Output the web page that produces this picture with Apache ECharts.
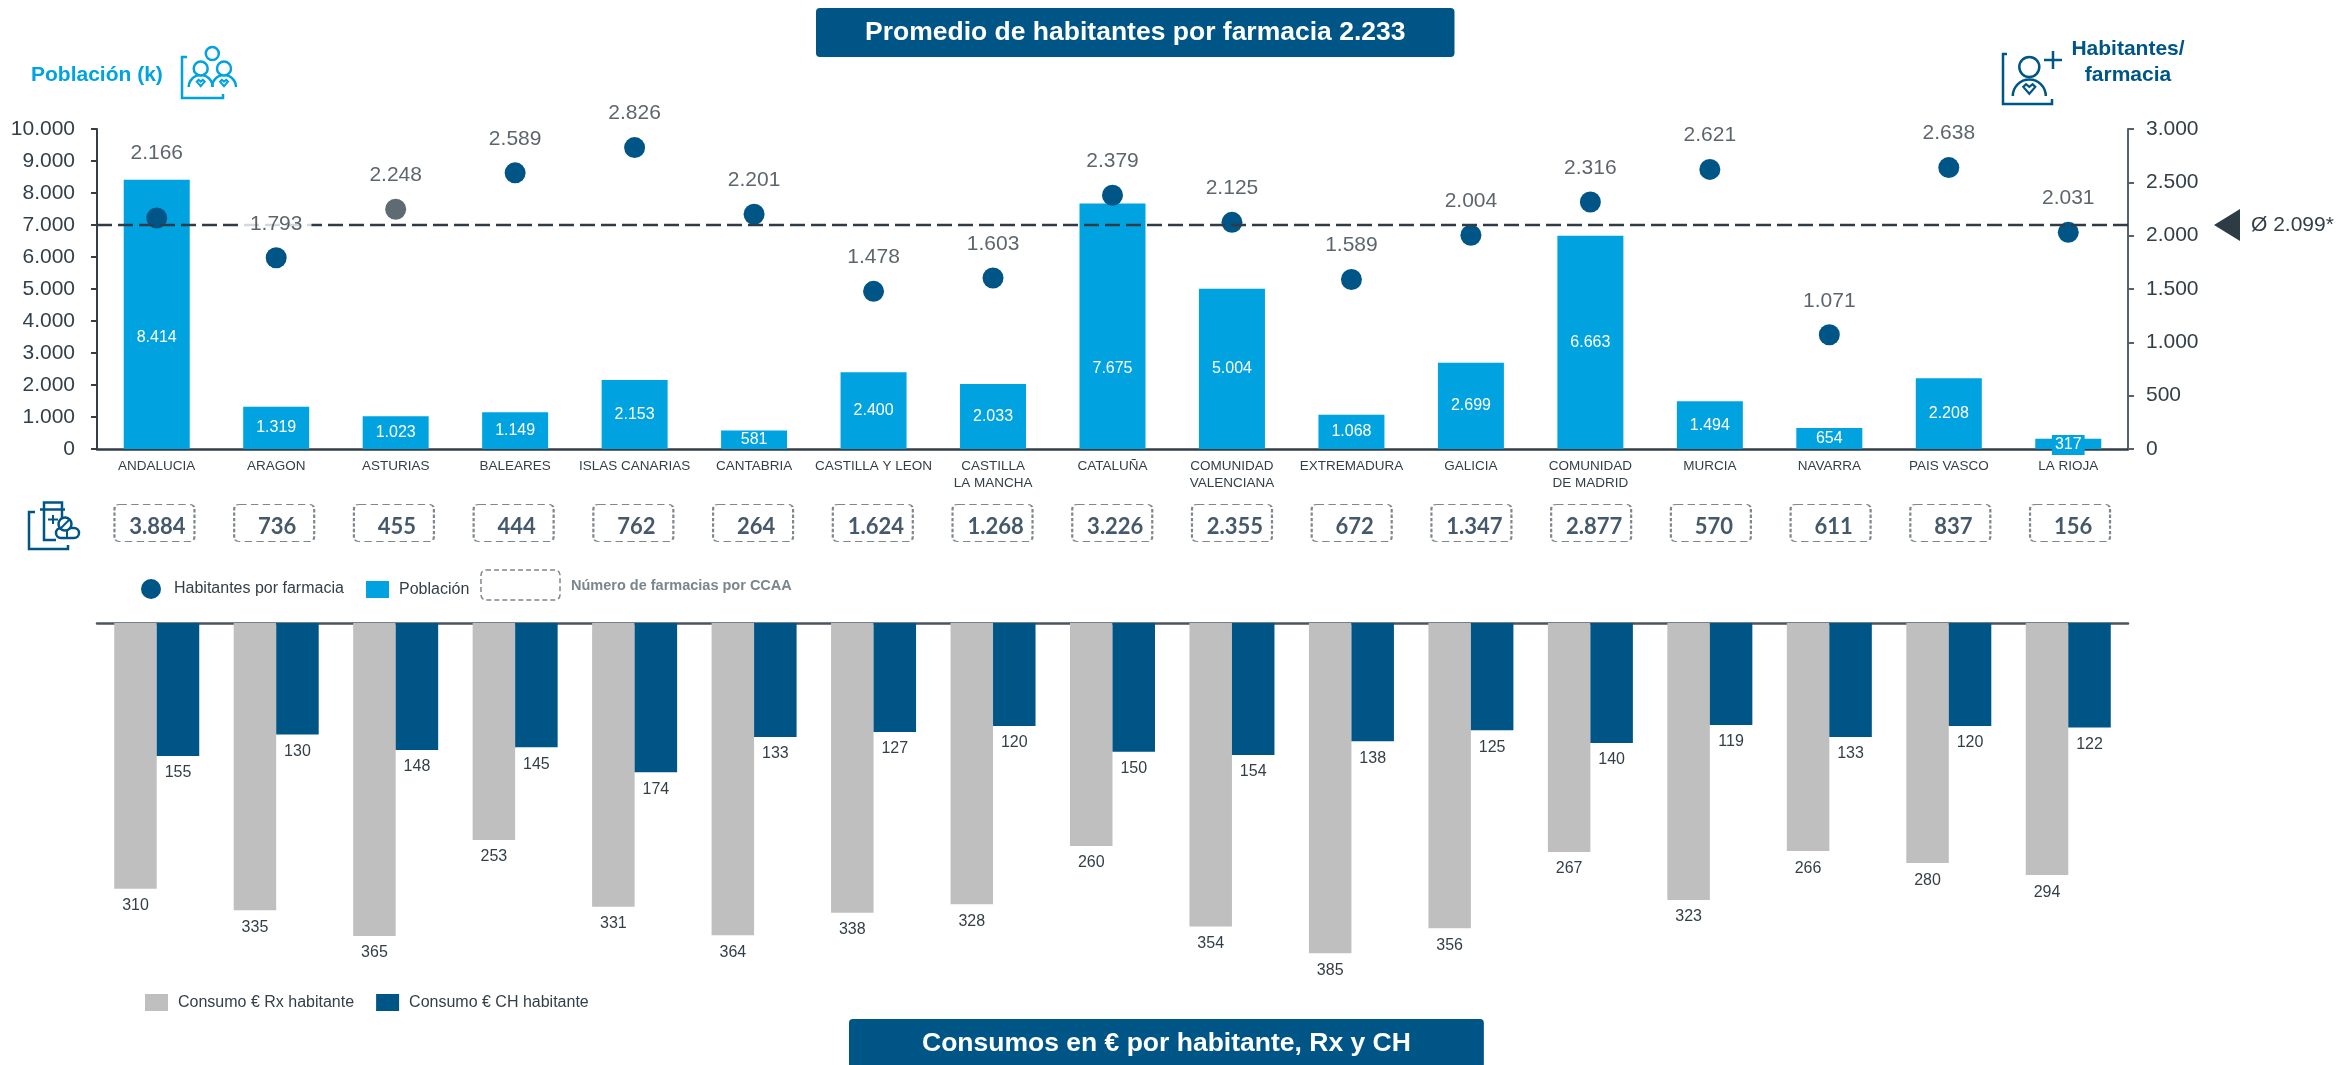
<!DOCTYPE html>
<html>
<head>
<meta charset="utf-8">
<title>Farmacias por CCAA</title>
<script src="https://cdn.jsdelivr.net/npm/echarts@6/dist/echarts.min.js"></script>
<style>
    html, body { margin: 0; padding: 0; background: #fff; }
    #chart { width: 2338px; height: 1065px; }
</style>
</head>
<body>
<div id="chart"></div>
<script>
    const categories = ['ANDALUCIA', 'ARAGON', 'ASTURIAS', 'BALEARES', 'ISLAS CANARIAS', 'CANTABRIA', 'CASTILLA Y LEON', 'CASTILLA\nLA MANCHA', 'CATALUÑA', 'COMUNIDAD\nVALENCIANA', 'EXTREMADURA', 'GALICIA', 'COMUNIDAD\nDE MADRID', 'MURCIA', 'NAVARRA', 'PAIS VASCO', 'LA RIOJA'];
    const poblacion = [8414, 1319, 1023, 1149, 2153, 581, 2400, 2033, 7675, 5004, 1068, 2699, 6663, 1494, 654, 2208, 317];
    const habitantes = [2166, 1793, 2248, 2589, 2826, 2201, 1478, 1603, 2379, 2125, 1589, 2004, 2316, 2621, 1071, 2638, 2031];
    const farmacias = [3884, 736, 455, 444, 762, 264, 1624, 1268, 3226, 2355, 672, 1347, 2877, 570, 611, 837, 156];
    const consumoRx = [310, 335, 365, 253, 331, 364, 338, 328, 260, 354, 385, 356, 267, 323, 266, 280, 294];
    const consumoCh = [155, 130, 148, 145, 174, 133, 127, 120, 150, 154, 138, 125, 140, 119, 133, 120, 122];
    const mediaHabitantes = 2099;

    const CYAN = '#00a3e0', NAVY = '#005587', GREY = '#bfbfbf', INK = '#333f48';
    const FONT = '"Liberation Sans", Arial, sans-serif';

    // puntos con . de miles, como en el original
    const fmt = v => String(v).replace(/\B(?=(\d{3})+$)/g, '.');

    // piezas sueltas para los iconos
    const poly = (points, color, w) => ({type: 'polyline', shape: {points}, style: {stroke: color, lineWidth: w, fill: null}});
    const ring = (cx, cy, r, color, w) => ({type: 'circle', shape: {cx, cy, r}, style: {stroke: color, lineWidth: w, fill: '#fff'}});
    const halfArc = (cx, cy, r, color, w) => ({type: 'arc', shape: {cx, cy, r, startAngle: Math.PI, endAngle: 0, clockwise: true}, style: {stroke: color, lineWidth: w, fill: null}});
    const heart = (cx, cy, s, color, w) => ({
        type: 'polygon',
        shape: {points: [[cx - s, cy - .35 * s], [cx - .55 * s, cy - .8 * s], [cx, cy - .35 * s], [cx + .55 * s, cy - .8 * s], [cx + s, cy - .35 * s], [cx, cy + .8 * s]]},
        style: {stroke: color, lineWidth: w, fill: null}
    });
    const text = (x, y, str, font, fill, align) => ({
        type: 'text', x, y,
        style: {text: str, font, fill, align: align || 'left', verticalAlign: 'middle', lineHeight: 26}
    });

    const iconPoblacion = [
        poly([[187, 57], [182, 57], [182, 98], [223, 98], [223, 94]], CYAN, 2.5),
        halfArc(200.7, 87, 12, CYAN, 2.5),
        halfArc(224, 87, 12, CYAN, 2.5),
        ring(212.3, 53.5, 6.5, CYAN, 2.5),
        ring(200.7, 68.5, 7, CYAN, 2.5),
        ring(224, 68.5, 7, CYAN, 2.5),
        heart(200.7, 83, 4, CYAN, 2),
        heart(224, 83, 4, CYAN, 2)
    ];
    const iconHabitantes = [
        poly([[2007, 54], [2003, 54], [2003, 104], [2052, 104], [2052, 99]], NAVY, 2.5),
        ring(2029.3, 67, 10, NAVY, 2.5),
        halfArc(2029.3, 96, 16.5, NAVY, 2.5),
        heart(2029.3, 89, 6, NAVY, 2.2),
        poly([[2044, 60], [2062, 60]], NAVY, 2.5),
        poly([[2053, 51], [2053, 69]], NAVY, 2.5)
    ];
    const iconFarmacia = [
        poly([[35, 512], [29, 512], [29, 549], [68, 549], [68, 545]], NAVY, 2.5),
        poly([[44, 509], [44, 502.5], [62, 502.5], [62, 509]], NAVY, 2.5),
        poly([[40, 509.5], [65, 509.5]], NAVY, 2.5),
        poly([[44, 510], [44, 540], [56, 540]], NAVY, 2.5),
        poly([[62, 510], [62, 522]], NAVY, 2.5),
        poly([[48, 519.5], [58, 519.5]], NAVY, 2),
        poly([[53, 515], [53, 524]], NAVY, 2),
        {type: 'rect', shape: {x: 56, y: 528, width: 23, height: 10, r: 5}, style: {stroke: NAVY, lineWidth: 2.5, fill: '#fff'}},
        poly([[67, 528], [67, 538]], NAVY, 2),
        ring(65, 524, 6.5, NAVY, 2.5),
        poly([[61, 528], [69, 520]], NAVY, 2)
    ];

    const chart = echarts.init(document.getElementById('chart'));

    const titleStyle = {color: '#fff', fontFamily: FONT, fontWeight: 'bold', fontSize: 26.5, lineHeight: 49};

    const option = {
        animation: false,
        backgroundColor: '#fff',
        textStyle: {fontFamily: FONT},
        title: [
            {text: 'Promedio de habitantes por farmacia 2.233', left: 816, top: 8, padding: [0, 49], backgroundColor: NAVY, borderRadius: 4, textStyle: titleStyle},
            {text: 'Consumos en € por habitante, Rx y CH', left: 849, top: 1019, padding: [0, 73, 0, 73], backgroundColor: NAVY, borderRadius: 4, textStyle: titleStyle}
        ],
        legend: [
            {data: [{name: 'Habitantes por farmacia', icon: 'circle'}], left: 141, top: 579, padding: 0, itemWidth: 20, itemHeight: 20, textStyle: {fontSize: 16, color: INK, padding: [0, 0, 0, 8]}, selectedMode: false},
            {data: [{name: 'Población', icon: 'rect'}], left: 366, top: 581, padding: 0, itemWidth: 23, itemHeight: 17, textStyle: {fontSize: 16, color: INK, padding: [0, 0, 0, 5]}, selectedMode: false},
            {data: [{name: 'Consumo € Rx habitante', icon: 'rect'}, {name: 'Consumo € CH habitante', icon: 'rect'}], left: 145, top: 994, padding: 0, itemWidth: 23, itemHeight: 17, itemGap: 22, textStyle: {fontSize: 16, color: INK, padding: [0, 0, 0, 5]}, selectedMode: false}
        ],
        grid: [
            {left: 97, top: 129, width: 2031, height: 320, outerBoundsMode: 'none'},
            {left: 97, top: 623, width: 2031, height: 343, outerBoundsMode: 'none'},
            {left: 94.6, top: 504, width: 2035.3, height: 38, outerBoundsMode: 'none'}
        ],
        xAxis: [
            {
                gridIndex: 0, type: 'category', data: categories,
                axisLine: {lineStyle: {color: INK, width: 2.5}},
                axisTick: {show: false},
                axisLabel: {interval: 0, fontSize: 13.5, lineHeight: 17, color: INK, margin: 9}
            },
            {
                gridIndex: 1, type: 'category', data: categories, position: 'top',
                axisLine: {lineStyle: {color: '#4a5560', width: 2.5}},
                axisTick: {show: false}, axisLabel: {show: false}
            },
            {gridIndex: 2, type: 'category', data: categories, show: false}
        ],
        yAxis: [
            {
                gridIndex: 0, type: 'value', min: 0, max: 10000, interval: 1000, position: 'left',
                splitLine: {show: false},
                axisLine: {show: true, lineStyle: {color: INK, width: 2}},
                axisTick: {show: true, length: 6, lineStyle: {color: INK, width: 2}},
                axisLabel: {fontSize: 21, color: INK, margin: 22, formatter: fmt}
            },
            {
                gridIndex: 0, type: 'value', min: 0, max: 3000, interval: 500, position: 'right',
                splitLine: {show: false},
                axisLine: {show: true, lineStyle: {color: '#56616b', width: 2}},
                axisTick: {show: true, length: 6, lineStyle: {color: '#56616b', width: 2}},
                axisLabel: {fontSize: 21, color: INK, margin: 18, formatter: fmt}
            },
            {gridIndex: 1, type: 'value', min: 0, max: 400, inverse: true, show: false},
            {gridIndex: 2, type: 'value', min: 0, max: 1, show: false}
        ],
        series: [
            {
                name: 'Población', type: 'bar', xAxisIndex: 0, yAxisIndex: 0, z: 2,
                barWidth: 66,
                itemStyle: {color: CYAN},
                label: {show: true, position: 'inside', color: '#fff', fontSize: 16, formatter: p => fmt(p.value)},
                data: poblacion.map((v, i) => {
                    // etiquetas desplazadas en el original para no pisar el punto
                    if (i === 0) return {value: v, label: {offset: [0, 23]}};
                    if (i === 8) return {value: v, label: {offset: [0, 42]}};
                    if (i === 16) return {value: v, label: {backgroundColor: CYAN, padding: [2, 3], lineHeight: 16, offset: [0, 1]}};
                    return v;
                })
            },
            {
                name: 'Habitantes por farmacia', type: 'scatter', xAxisIndex: 0, yAxisIndex: 1, z: 3,
                symbolSize: 21,
                itemStyle: {color: NAVY, opacity: 1},
                data: habitantes.map((v, i) => i === 2 ? {value: v, itemStyle: {color: '#5f6b73'}} : v),
                markLine: {
                    silent: true, symbol: 'none', z: 4,
                    label: {show: false},
                    lineStyle: {color: '#2f3c47', type: [15, 6], width: 2.4},
                    data: [{yAxis: mediaHabitantes}]
                }
            },
            {
                // solo las etiquetas, para que queden por encima de la linea de media
                name: 'etiquetas habitantes', type: 'scatter', xAxisIndex: 0, yAxisIndex: 1, z: 6,
                symbolSize: 1,
                itemStyle: {color: 'rgba(0,0,0,0)'},
                label: {show: true, position: 'top', distance: 23, fontSize: 21, color: INK, formatter: p => fmt(p.value)},
                data: habitantes.map((v, i) => {
                    if (i === 0) return {value: v, label: {distance: 54}};
                    if (i === 1) return {value: v, label: {backgroundColor: '#fff', padding: [0, 9]}};
                    return v;
                })
            },
            {
                name: 'Número de farmacias', type: 'scatter', xAxisIndex: 2, yAxisIndex: 3,
                symbol: 'path://M5 0H75Q80 0 80 5V32Q80 37 75 37H5Q0 37 0 32V5Q0 0 5 0Z', symbolSize: [80, 37], symbolKeepAspect: false,
                itemStyle: {color: 'rgba(255,255,255,0)', borderColor: '#7f878d', borderWidth: 1.5, borderType: [5, 3], opacity: 1},
                label: {show: true, position: 'inside', offset: [3, 4], fontFamily: 'Lato', fontWeight: 'bold', fontSize: 22, color: '#44596b'},
                data: farmacias.map((v, i) => ({value: [i, 0.5], label: {formatter: fmt(v)}}))
            },
            {
                name: 'Consumo € Rx habitante', type: 'bar', xAxisIndex: 1, yAxisIndex: 2,
                barWidth: 42.5, barGap: 0,
                itemStyle: {color: GREY},
                label: {show: true, position: 'bottom', distance: 9, fontSize: 16, color: INK},
                data: consumoRx
            },
            {
                name: 'Consumo € CH habitante', type: 'bar', xAxisIndex: 1, yAxisIndex: 2,
                barWidth: 42.5, barGap: 0,
                itemStyle: {color: NAVY},
                label: {show: true, position: 'bottom', distance: 9, fontSize: 16, color: INK},
                data: consumoCh
            }
        ],
        graphic: [
            ...iconPoblacion, ...iconHabitantes, ...iconFarmacia,
            text(31, 75, 'Población (k)', 'bold 21px ' + FONT, CYAN),
            text(2128, 62, 'Habitantes/\nfarmacia', 'bold 21px ' + FONT, NAVY, 'center'),
            {type: 'polygon', shape: {points: [[2214, 225], [2240, 209], [2240, 241]]}, style: {fill: '#2d3b45'}},
            text(2251, 225, 'Ø 2.099*', '21px ' + FONT, INK),
            {type: 'rect', shape: {x: 481, y: 570, width: 79, height: 30, r: 5}, style: {stroke: '#7f878d', lineWidth: 1.5, lineDash: [5, 3], fill: null}},
            text(571, 586, 'Número de farmacias por CCAA', 'bold 14.5px ' + FONT, '#7b858c')
        ]
    };

    chart.setOption(option);
</script>
</body>
</html>
